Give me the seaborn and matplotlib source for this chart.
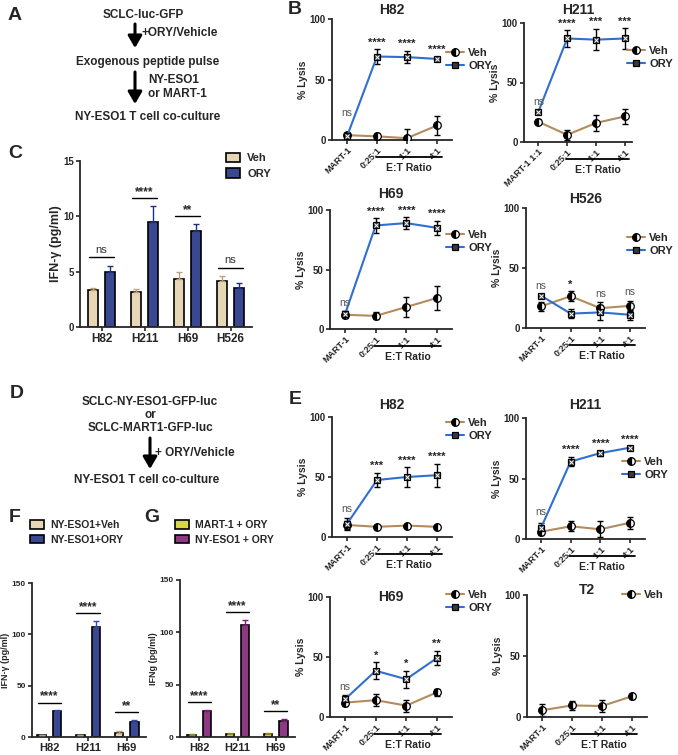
import numpy as np
import pandas as pd
import matplotlib
matplotlib.use('Agg')
import matplotlib.pyplot as plt
import matplotlib.transforms as mtransforms
import seaborn as sns

# ---------------- data ----------------
ratios = ['MART-1', '0:25:1', '1:1', '4:1']
ratios_h211 = ['MART-1 1:1', '0:25:1', '1:1', '4:1']

# B: exogenous peptide pulse, % lysis
b_h82_veh, b_h82_veh_err = [4, 3, 1.5, 12], [2, 3, 8, 7.5]
b_h82_ory, b_h82_ory_err = [3, 69, 68.5, 67], [1, 6, 5, 1.5]
b_h82_sig = ['ns', '****', '****', '****']

b_h211_veh, b_h211_veh_err = [17, 6, 16, 21.5], [2, 4, 7, 6.5]
b_h211_ory, b_h211_ory_err = [25.5, 87, 86, 87], [1, 7, 9, 8.5]
b_h211_sig = ['ns', '****', '***', '***']

b_h69_veh, b_h69_veh_err = [12, 11, 18.5, 26], [3, 3, 8, 10]
b_h69_ory, b_h69_ory_err = [13, 87, 89, 85], [2, 6, 5, 6]
b_h69_sig = ['ns', '****', '****', '****']

b_h526_veh, b_h526_veh_err = [18, 26.5, 16.5, 18.5], [4, 4, 5, 4]
b_h526_ory, b_h526_ory_err = [27, 12, 13, 11], [1, 4, 6, 4]
b_h526_sig = ['ns', '*', 'ns', 'ns']

# E: antigen-expressing lines, % lysis
e_h82_veh, e_h82_veh_err = [10, 8.5, 9.5, 8.5], [3, 1, 1, 1]
e_h82_ory, e_h82_ory_err = [11, 47.5, 50, 51.5], [5, 6, 8, 9.5]
e_h82_sig = ['ns', '***', '****', '****']

e_h211_veh, e_h211_veh_err = [6, 10.5, 8, 13.5], [3, 4, 6.5, 5]
e_h211_ory, e_h211_ory_err = [9, 64, 71, 75.5], [4, 4, 2, 1]
e_h211_sig = ['ns', '****', '****', '****']

e_h69_veh, e_h69_veh_err = [12, 14, 9.5, 20.5], [3, 5, 5, 3]
e_h69_ory, e_h69_ory_err = [15, 38.5, 31.5, 49], [3, 7, 7, 6]
e_h69_sig = ['ns', '*', '*', '**']

e_t2_veh, e_t2_veh_err = [5.5, 9.5, 9, 17], [5, 4, 5, 2]

# C: IFN-gamma, peptide pulse
c_lines = ['H82', 'H211', 'H69', 'H526']
c_veh, c_veh_err = [3.3, 3.2, 4.3, 4.2], [0.25, 0.25, 0.7, 0.4]
c_ory, c_ory_err = [5.0, 9.5, 8.7, 3.5], [0.55, 1.4, 0.6, 0.45]
c_sig = ['ns', '****', '**', 'ns']

# F / G: IFN-gamma, antigen-expressing lines
fg_lines = ['H82', 'H211', 'H69']
f_veh, f_veh_err = [1.5, 1.5, 4], [0.6, 0.6, 1.5]
f_ory, f_ory_err = [25, 107, 15], [1, 6, 2]
f_sig = ['****', '****', '**']
g_mart, g_mart_err = [2, 2.5, 2.5], [0.6, 1, 1]
g_nyeso, g_nyeso_err = [25, 107, 15], [1, 5, 2]
g_sig = ['****', '****', '**']

# ---------------- style ----------------
sns.set_theme(style='ticks')
plt.rcParams['font.family'] = ['Liberation Sans', 'DejaVu Sans']
plt.rcParams['font.weight'] = 'bold'
plt.rcParams['axes.labelweight'] = 'bold'
plt.rcParams['axes.linewidth'] = 1.3
plt.rcParams['xtick.major.width'] = 1.2
plt.rcParams['ytick.major.width'] = 1.2
plt.rcParams['xtick.major.size'] = 3
plt.rcParams['ytick.major.size'] = 3
plt.rcParams['xtick.major.pad'] = 1
plt.rcParams['ytick.major.pad'] = 1.5

VEH_C = '#b38b5d'
ORY_C = '#2f6fd1'
W, H = 678, 755

fig = plt.figure(figsize=(W / 100, H / 100), dpi=100)


def frac_rect(l, t, r, b):
    return [l / W, 1 - b / H, (r - l) / W, (b - t) / H]


titles = []


def line_panel(rect, title, title_y, ticklabels, veh, veh_err, ory, ory_err,
               sig, leg_xy, xmax=3.5):
    ax = fig.add_axes(frac_rect(*rect))
    ax.set_facecolor('none')
    pos = np.arange(len(ticklabels))
    sns.lineplot(x=pos, y=veh, color=VEH_C, lw=1.5, marker='o',
                 markersize=5.5, fillstyle='left', markerfacecolor='black',
                 markerfacecoloralt='white', markeredgecolor='black',
                 markeredgewidth=0.9, label='Veh', ax=ax, zorder=3)
    ax.errorbar(pos, veh, yerr=veh_err, fmt='none', ecolor='black',
                elinewidth=1, capsize=2.5, capthick=1, zorder=2)
    if ory is not None:
        sns.lineplot(x=pos, y=ory, color=ORY_C, lw=1.5, marker='s',
                     markersize=5, markerfacecolor='#3a3a3a',
                     markeredgecolor='black', markeredgewidth=0.9,
                     label='ORY', ax=ax, zorder=3)
        ax.errorbar(pos, ory, yerr=ory_err, fmt='none', ecolor='black',
                    elinewidth=1, capsize=2.5, capthick=1, zorder=2)
        ax.plot(pos, ory, ls='none', marker='x', markersize=2.8,
                markeredgewidth=0.7, color='white', zorder=4)
    if sig is not None:
        for i, s in enumerate(sig):
            top = max(veh[i] + veh_err[i], ory[i] + ory_err[i])
            if s == 'ns':
                ax.text(i, max(top + 3, 18), s, ha='center', va='bottom',
                        fontsize=7.5, fontweight='normal', color='#555555')
            else:
                ax.text(i, top + 1.5, s, ha='center', va='bottom',
                        fontsize=8, fontweight='bold')
    ax.set_ylim(0, 100)
    ax.set_yticks([0, 50, 100])
    ax.set_xlim(-0.5, xmax)
    ax.set_xticks(pos)
    ax.set_xticklabels(ticklabels, rotation=45, ha='right',
                       rotation_mode='anchor')
    ax.tick_params(axis='x', labelsize=6.5)
    ax.tick_params(axis='y', labelsize=7)
    ax.set_ylabel('% Lysis', fontsize=7.5, labelpad=1)
    ax.set_xlabel('')
    sns.despine(ax=ax)
    # E:T ratio bracket under the three ratio ticks
    h_px = rect[3] - rect[1]
    trans = mtransforms.blended_transform_factory(ax.transData, ax.transAxes)
    ax.plot([0.95, 3.15], [-17 / h_px] * 2, color='black', lw=1.3,
            transform=trans, clip_on=False)
    ax.text(2.05, -28 / h_px, 'E:T Ratio', transform=trans, ha='center',
            va='center', fontsize=7.5, fontweight='bold')
    handles, labels = ax.get_legend_handles_labels()
    ax.legend(handles, labels, loc='upper left',
              bbox_to_anchor=(leg_xy[0] / W, 1 - leg_xy[1] / H),
              bbox_transform=fig.transFigure, frameon=False, fontsize=8,
              handlelength=1.6, handletextpad=0.4, labelspacing=0.3,
              borderaxespad=0, borderpad=0)
    titles.append(((rect[0] + rect[2]) / 2, title_y, title))
    return ax


def bar_panel(rect, cats, a, a_err, b, b_err, names, colors, err_colors,
              sig, ymax, yticks, ylabel, ylabel_size, leg_xy, xlim, gap,
              leg_size, tick_size, ytick_size):
    ax = fig.add_axes(frac_rect(*rect))
    ax.set_facecolor('none')
    n = len(cats)
    df = pd.DataFrame({'line': cats * 2, 'val': a + b,
                       'group': [names[0]] * n + [names[1]] * n})
    sns.barplot(data=df, x='line', y='val', hue='group', palette=colors,
                errorbar=None, width=0.8, gap=gap, edgecolor='black',
                linewidth=1.2, ax=ax, zorder=2)
    for cont, errs, ec in zip(ax.containers, [a_err, b_err], err_colors):
        for bar, e in zip(cont, errs):
            ax.errorbar(bar.get_x() + bar.get_width() / 2, bar.get_height(),
                        yerr=[[0], [e]], fmt='none', ecolor=ec,
                        elinewidth=1, capsize=2.5, capthick=1, zorder=3)
    for i, s in enumerate(sig):
        top = max(a[i] + a_err[i], b[i] + b_err[i])
        yl = top + 0.05 * ymax
        ax.plot([i - 0.3, i + 0.3], [yl, yl], color='black', lw=1)
        if s == 'ns':
            ax.text(i, yl + 0.015 * ymax, s, ha='center', va='bottom',
                    fontsize=8, fontweight='normal', color='#333333')
        else:
            ax.text(i, yl, s, ha='center', va='bottom', fontsize=8.5,
                    fontweight='bold')
    ax.set_ylim(0, ymax)
    ax.set_yticks(yticks)
    ax.set_xlim(*xlim)
    ax.tick_params(axis='y', labelsize=ytick_size)
    ax.tick_params(axis='x', labelsize=tick_size)
    ax.set_ylabel(ylabel, fontsize=ylabel_size, labelpad=1)
    ax.set_xlabel('')
    sns.despine(ax=ax)
    handles, labels = ax.get_legend_handles_labels()
    ax.legend(handles, labels, loc='upper left',
              bbox_to_anchor=(leg_xy[0] / W, 1 - leg_xy[1] / H),
              bbox_transform=fig.transFigure, frameon=False,
              fontsize=leg_size, handlelength=1.3, handleheight=0.9,
              handletextpad=0.6, labelspacing=0.45, borderaxespad=0,
              borderpad=0)
    return ax


# ---------------- panel B ----------------
line_panel((332, 19, 452, 140), 'H82', 10, ratios, b_h82_veh, b_h82_veh_err,
           b_h82_ory, b_h82_ory_err, b_h82_sig, (446, 48))
line_panel((524, 23, 632, 142), 'H211', 10, ratios_h211, b_h211_veh,
           b_h211_veh_err, b_h211_ory, b_h211_ory_err, b_h211_sig,
           (627, 46), xmax=3.25)
line_panel((330, 210, 452, 329), 'H69', 194, ratios, b_h69_veh,
           b_h69_veh_err, b_h69_ory, b_h69_ory_err, b_h69_sig, (446, 230))
line_panel((526, 208, 645, 328), 'H526', 199, ratios, b_h526_veh,
           b_h526_veh_err, b_h526_ory, b_h526_ory_err, b_h526_sig,
           (627, 233))

# ---------------- panel E ----------------
line_panel((332, 417, 452, 537), 'H82', 405, ratios, e_h82_veh,
           e_h82_veh_err, e_h82_ory, e_h82_ory_err, e_h82_sig, (446, 418))
line_panel((526, 418, 645, 539), 'H211', 405, ratios, e_h211_veh,
           e_h211_veh_err, e_h211_ory, e_h211_ory_err, e_h211_sig,
           (622, 457))
line_panel((330, 597, 452, 717), 'H69', 597, ratios, e_h69_veh,
           e_h69_veh_err, e_h69_ory, e_h69_ory_err, e_h69_sig, (446, 590))
line_panel((527, 595, 647, 717), 'T2', 590, ratios, e_t2_veh, e_t2_veh_err,
           None, None, None, (622, 590))

# ---------------- panel C ----------------
bar_panel((80, 161, 252, 327), c_lines, c_veh, c_veh_err, c_ory, c_ory_err,
          ['Veh', 'ORY'], ['#efd9ad', '#2b3f9e'], ['#b9a27c', '#1f2e80'],
          c_sig, 15, [0, 5, 10, 15], 'IFN-γ (pg/ml)', 9, (226, 153),
          (-0.5, 3.5), 0.42, 8, 8.5, 7)

# ---------------- panels F and G ----------------
bar_panel((32, 583, 146, 737), fg_lines, f_veh, f_veh_err, f_ory, f_ory_err,
          ['NY-ESO1+Veh', 'NY-ESO1+ORY'], ['#efd9ad', '#2b3f9e'],
          ['#b9a27c', '#3346b0'], f_sig, 150, [0, 50, 100, 150],
          'IFN-γ (pg/ml)', 6.5, (30, 520), (-0.45, 2.5), 0.45, 7.5, 8, 6)
bar_panel((180, 580, 295, 737), fg_lines, g_mart, g_mart_err, g_nyeso,
          g_nyeso_err, ['MART-1 + ORY', 'NY-ESO1 + ORY'],
          ['#f2ef2c', '#9b2b8e'], ['#8e8a20', '#7a1f70'], g_sig, 150,
          [0, 50, 100, 150], 'IFNg (pg/ml)', 6.5, (175, 520), (-0.5, 2.5),
          0.45, 7.5, 8, 6)

# ---------------- schematics, titles and panel letters ----------------
ov = fig.add_axes([0, 0, 1, 1])
ov.set_xlim(0, W)
ov.set_ylim(H, 0)
ov.axis('off')

for x, y, t in titles:
    ov.text(x, y, t, ha='center', va='center', fontsize=10,
            fontweight='bold')

for letter, x, y in [('A', 15, 15), ('B', 295, 10), ('C', 15, 153),
                     ('D', 17, 394), ('E', 295, 400), ('F', 15, 518),
                     ('G', 152, 518)]:
    ov.text(x, y, letter, ha='center', va='center', fontsize=14,
            fontweight='bold')

arrow = dict(arrowstyle='-|>,head_width=0.35,head_length=0.6', lw=2.2,
             color='black', shrinkA=0, shrinkB=0)
sch = dict(ha='center', va='center', fontsize=8.5, fontweight='bold')
ov.text(143, 15, 'SCLC-luc-GFP', **sch)
ov.annotate('', xy=(135, 48), xytext=(135, 24), arrowprops=arrow)
ov.text(142, 33, '+ORY/Vehicle', ha='left', va='center', fontsize=8.5,
        fontweight='bold')
ov.text(148, 62, 'Exogenous peptide pulse', **sch)
ov.annotate('', xy=(135, 104), xytext=(135, 72), arrowprops=arrow)
ov.text(148, 80, 'NY-ESO1', ha='left', va='center', fontsize=8.5,
        fontweight='bold')
ov.text(148, 94, 'or MART-1', ha='left', va='center', fontsize=8.5,
        fontweight='bold')
ov.text(148, 117, 'NY-ESO1 T cell co-culture', **sch)

ov.text(150, 402, 'SCLC-NY-ESO1-GFP-luc', **sch)
ov.text(150, 415, 'or', **sch)
ov.text(150, 428, 'SCLC-MART1-GFP-luc', **sch)
ov.annotate('', xy=(150, 469), xytext=(150, 438), arrowprops=arrow)
ov.text(155, 453, '+ ORY/Vehicle', ha='left', va='center', fontsize=8.5,
        fontweight='bold')
ov.text(147, 480, 'NY-ESO1 T cell co-culture', **sch)

fig.savefig('out.png', dpi=100)
